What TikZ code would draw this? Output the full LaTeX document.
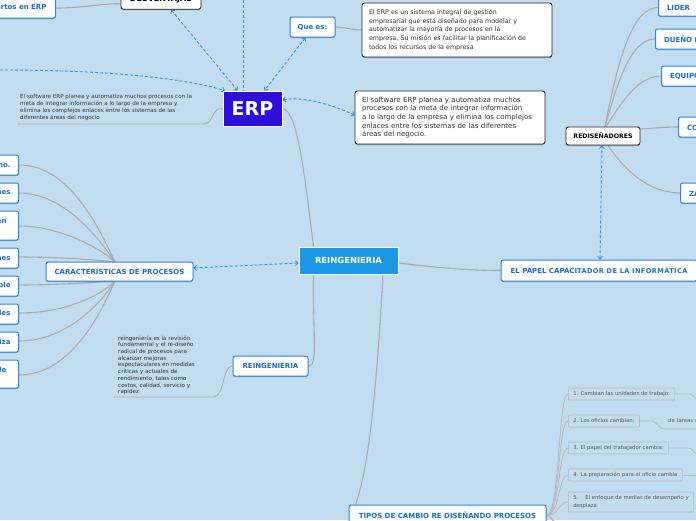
\documentclass[tikz,border=0pt]{standalone}
\usepackage{fontspec}
\setmainfont{DejaVu Sans}
\usetikzlibrary{arrows.meta,shadows}
\definecolor{bgc}{HTML}{C3DDF0}
\definecolor{blueb}{HTML}{2C86E2}
\definecolor{bluet}{HTML}{1B6CCF}
\definecolor{glc}{HTML}{ABABAB}
\definecolor{dlc}{HTML}{3A8DE6}
\definecolor{darkt}{HTML}{333333}
\definecolor{erpc}{HTML}{2E0EDB}
\definecolor{reingc}{HTML}{1A98E6}
\definecolor{subb}{HTML}{B8B8B8}
\definecolor{subt}{HTML}{555555}
\pgfdeclarelayer{lines}
\pgfsetlayers{lines,main}
\begin{document}
\begin{tikzpicture}[x=1pt,y=-1pt,
  lbl/.style={font=\fontsize{7}{8.4}\selectfont\bfseries},
  shd/.style={drop shadow={shadow xshift=0pt, shadow yshift=-1pt, opacity=0.3, fill=black}},
  bluebox/.style={draw=blueb, fill=white, line width=1pt, rounded corners=2pt, text=bluet, lbl, inner sep=0pt, minimum height=20pt, align=center, shd},
  blackbox/.style={draw=black!85, fill=white, line width=0.9pt, rounded corners=2.5pt, text=black, inner sep=0pt, shd},
  txtbox/.style={blackbox, font=\fontsize{6.3}{8.6}\selectfont, text=darkt, align=left, inner xsep=7pt, inner ysep=0pt},
  leftbox/.style={bluebox, anchor=east, inner xsep=8pt, align=left},
  rolebox/.style={bluebox, anchor=west, inner xsep=8.5pt},
  subbox/.style={draw=subb, line width=0.7pt, rounded corners=1pt, font=\fontsize{5.3}{8}\selectfont, text=subt, inner xsep=5pt, inner ysep=0pt, minimum height=12pt, anchor=west, align=left},
  anntext/.style={font=\fontsize{5.6}{6.7}\selectfont, text=darkt, align=left, inner sep=0pt},
  gline/.style={draw=glc, line width=1.1pt},
  thinl/.style={draw=subb, line width=0.8pt},
  dline/.style={draw=dlc, line width=0.9pt, dash pattern=on 3pt off 2pt},
  dboth/.style={dline, {Straight Barb[length=2.5pt,width=5pt]}-{Straight Barb[length=2.5pt,width=5pt]}},
  dend/.style={dline, -{Straight Barb[length=2.5pt,width=5pt]}}
]
\begin{pgfonlayer}{lines}
\fill[bgc] (0,0) rectangle (696,520);
\end{pgfonlayer}
\useasboundingbox (0,0) rectangle (696,520);

% ---------- top nodes ----------
\node[blackbox, minimum width=80pt, minimum height=19pt, font=\fontsize{8}{9}\selectfont\bfseries] (desv) at (161,-0.3) {DESVENTAJAS};
\node[bluebox, anchor=east, inner xsep=9pt] (exp) at (56,8) {Expertos en ERP};
\node[bluebox, minimum width=45pt] (que) at (312.5,27) {Que es:};
\node[draw=white, line width=1pt, fill=erpc, text=white, font=\fontsize{19}{20}\selectfont\bfseries, minimum width=59pt, minimum height=35pt, inner sep=0pt] (erp) at (252.5,108.5) {ERP};
\node[txtbox, text width=176pt, minimum height=54pt] (def) at (457,30) {El ERP es un sistema integral de gestión\\empresarial que está diseñado para modelar y\\automatizar la mayoría de procesos en la\\empresa, Su misión es facilitar la planificación de\\todos los recursos de la empresa};
\node[txtbox, text width=176pt, minimum height=53pt, font=\fontsize{7}{8.7}\selectfont] (sw) at (450,117.5) {El software ERP planea y automatiza muchos\\procesos con la meta de integrar información\\a lo largo de la empresa y elimina los complejos\\enlaces entre los sistemas de las diferentes\\áreas del negocio.};
\node[anntext, anchor=north west] (ann1) at (20,94.5) {El software ERP planea y automatiza muchos procesos con la\\meta de integrar información a lo largo de la empresa y\\elimina los complejos enlaces entre los sistemas de las\\diferentes áreas del negocio};
\coordinate (u1a) at (17,124);
\coordinate (u1b) at (203,124);
\coordinate (lft) at (0,70);
\coordinate (topc) at (243,0);

% ---------- centre ----------
\node[draw=white, line width=1pt, fill=reingc, text=white, font=\fontsize{8.4}{10}\selectfont\bfseries, minimum width=99pt, minimum height=27pt, inner sep=0pt] (reing) at (348.5,260.5) {REINGENIERIA};
\node[bluebox, minimum width=196pt, minimum height=21pt] (papel) at (599,270.5) {EL PAPEL CAPACI{\fontsize{6.6}{8}\selectfont\addfontfeature{LetterSpace=6}TADOR DE LA INFORMÁTICA}};
\node[blackbox, minimum width=74pt, minimum height=18pt, font=\fontsize{6.2}{7}\selectfont\bfseries] (redis) at (603,136) {REDISEÑADORES};
\node[rolebox, minimum height=17pt] (lider) at (658,7.5) {LIDER};
\node[rolebox] (duen) at (655,39) {DUEÑO DEL PROCESO};
\node[rolebox] (equi) at (661,76) {EQUIPO DE REINGENIERÍA};
\node[rolebox] (comi) at (678,127) {COMITÉ DE DIRECCIÓN};
\node[rolebox] (zar) at (680,193) {ZAR DE REINGENIERÍA};

% ---------- left ----------
\node[bluebox, minimum width=147pt, minimum height=19pt] (car) at (119.5,271.5) {CARACTERÍSTICAS DE PROCESOS};
\node[leftbox] (l1) at (19,165) {Varios oficios se combinan en uno.};
\node[leftbox] (l2) at (19,193) {Los trabajadores toman decisiones};
\node[leftbox, minimum height=29pt] (l3) at (19,225.5) {Los pasos del proceso se ejecutan en\hspace*{4pt}\\orden natural};
\node[leftbox] (l4) at (19,258) {Los procesos tienen múltiples versiones};
\node[leftbox] (l5) at (19,286) {El trabajo se realiza en el sitio razonable};
\node[leftbox] (l6) at (19,314) {Se reducen las verificaciones y controles};
\node[leftbox] (l7) at (19,342) {La conciliación se minimiza};
\node[leftbox, minimum height=28pt] (l8) at (19,374) {Un gerente de caso ofrece un solo punto de\hspace*{4pt}\\contacto};
\coordinate (cu) at (115,262);
\coordinate (cl) at (115,281);

\node[bluebox, minimum width=75pt] (reing2) at (270.5,366) {REINGENIERIA};
\node[anntext, anchor=north west, text=darkt!90!black] (ann2) at (118,335.5) {reingeniería es la revisión\\fundamental y el re-diseño\\radical de procesos para\\alcanzar mejoras\\espectaculares en medidas\\críticas y actuales de\\rendimiento, tales como\\costos, calidad, servicio y\\rapidez};
\coordinate (u2a) at (114,397);
\coordinate (u2b) at (213,397);

% ---------- bottom ----------
\node[bluebox, minimum width=197pt, minimum height=21pt] (tipos) at (447.5,515.5) {TIPOS DE CAMBIO RE DISEÑANDO PROCESOS};
\node[subbox] (s1) at (568,394) {1. Cambian las unidades de trabajo:};
\node[subbox] (s2) at (568,421) {2. Los oficios cambian:};
\node[subbox] (s3) at (568,448) {3. El papel del trabajador cambia:};
\node[subbox] (s4) at (568,475) {4. La preparación para el oficio cambia};
\node[subbox, minimum height=20pt] (s5) at (568,502) {5.\hspace{1.3em}El enfoque de medias de desempeño y\\desplaza};
\node[anchor=west, font=\fontsize{5.3}{8}\selectfont, text=subt, inner sep=0pt] (tar) at (668,421.5) {de tareas simples a multidimensionales};
\coordinate (e1) at (700,402);
\coordinate (e2) at (700,429);
\coordinate (e3) at (700,456);
\coordinate (e4) at (700,475);
\coordinate (d1) at (572,535);
\coordinate (d2) at (572,560);

% ---------- connectors ----------
\begin{pgfonlayer}{lines}
\draw[gline] (exp.east) .. controls (85,8) and (100,3.5) .. ([yshift=-4pt]desv.west);
\draw[gline] (que.east) .. controls (345,27) and (352,30) .. (def.west);
\draw[gline, line width=0.9pt] (erp.west) .. controls (211,108) and (214,124) .. (u1b) -- (u1a);
\draw[dend] (lft) .. controls (120,70) and (190,80) .. ([xshift=-27.5pt]erp.north);
\draw[dline] (topc) -- ([xshift=-9.5pt]erp.north);
\draw[dboth] ([xshift=10pt]desv.south) -- ([xshift=-15pt]erp.north);
\draw[dboth] ([xshift=-7pt]que.south) -- ([xshift=12pt]erp.north);
\draw[dboth] ([yshift=8.5pt]erp.east) .. controls (302,96) and (330,104) .. ([yshift=2.5pt]sw.west);
\draw[gline] (erp.east) .. controls (298,110) and (305,180) .. ([xshift=-35pt]reing.north);

\draw[gline] ([yshift=-2.5pt]reing.east) .. controls (440,268) and (470,270.5) .. (papel.west);
\draw[dboth] ([xshift=1pt]papel.north) -- ([xshift=-1pt]redis.south);
\draw[gline] ([xshift=2pt]redis.north) .. controls (618,60) and (632,7.5) .. (lider.west);
\draw[gline] ([xshift=2pt]redis.north) .. controls (617,85) and (630,39) .. (duen.west);
\draw[gline] ([xshift=3pt]redis.north) .. controls (622,102) and (638,76) .. (equi.west);
\draw[gline] ([yshift=7pt]redis.east) .. controls (655,128) and (665,127) .. (comi.west);
\draw[gline] ([xshift=5pt]redis.south) .. controls (630,178) and (655,193) .. (zar.west);

\draw[dboth] ([yshift=3.5pt]car.east) -- ([yshift=-2.5pt]reing.west);
\draw[gline] (l1.east) .. controls (70,165) and (100,230) .. (cu);
\draw[gline] (l2.east) .. controls (65,193) and (100,240) .. (cu);
\draw[gline] ([yshift=-0.5pt]l3.east) .. controls (60,226) and (100,248) .. (cu);
\draw[gline] ([yshift=1pt]l4.east) .. controls (60,257) and (100,260) .. (cu);
\draw[gline] ([yshift=1pt]l5.east) .. controls (60,285) and (100,282) .. (cl);
\draw[gline] ([yshift=1pt]l6.east) .. controls (65,313) and (100,296) .. (cl);
\draw[gline] ([yshift=1pt]l7.east) .. controls (65,341) and (100,305) .. (cl);
\draw[gline] ([yshift=-1pt]l8.east) .. controls (70,375) and (100,315) .. (cl);

\draw[gline] ([xshift=-35pt]reing.south) .. controls (313,340) and (318,366) .. (reing2.east);
\draw[gline, line width=0.9pt] (reing2.west) .. controls (222,366) and (225,397) .. (u2b) -- (u2a);
\draw[gline] ([xshift=34.5pt]reing.south) .. controls (376,400) and (368,470) .. ([xshift=-92pt]tipos.north);

\draw[thinl] (tipos.east) .. controls (560,515) and (558,394) .. (s1.west);
\draw[thinl] (tipos.east) .. controls (560,515) and (558,421) .. (s2.west);
\draw[thinl] (tipos.east) .. controls (560,515) and (558,448) .. (s3.west);
\draw[thinl] (tipos.east) .. controls (560,515) and (558,475) .. (s4.west);
\draw[thinl] (tipos.east) .. controls (560,515) and (558,502) .. (s5.west);
\draw[thinl] (tipos.east) .. controls (556,515) and (556,535) .. (d1);
\draw[thinl] (tipos.east) .. controls (558,515) and (558,560) .. (d2);
\draw[thinl] (s1.east) -- (689,394) .. controls (694,394) and (695,400) .. (e1);
\draw[thinl] (s2.east) -- (650,421) .. controls (658,421) and (657,429) .. (666,429) -- (e2);
\draw[thinl] (s3.east) -- (688,448) .. controls (693,448) and (694,454) .. (e3);
\draw[thinl] (s4.east) -- (e4);
\end{pgfonlayer}
\end{tikzpicture}
\end{document}
